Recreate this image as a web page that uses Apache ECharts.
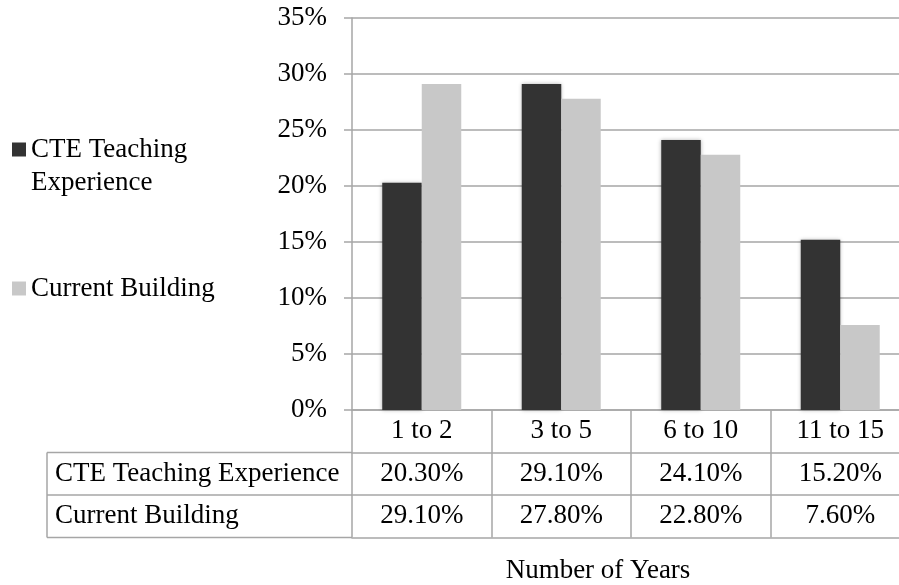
<!DOCTYPE html>
<html>
<head>
<meta charset="utf-8">
<script src="https://cdn.jsdelivr.net/npm/echarts@6/dist/echarts.min.js"></script>
<style>
  html, body { margin: 0; padding: 0; background: #fff; overflow: hidden; }
  /* the original chart runs a little past the right edge of the picture */
  #chart { width: 910px; height: 585px; }
</style>
</head>
<body>
<div id="chart"></div>
<script>
// data
const categories = ['1 to 2', '3 to 5', '6 to 10', '11 to 15'];
const seriesNames = ['CTE Teaching Experience', 'Current Building'];
const cteTeaching = [0.203, 0.291, 0.241, 0.152];
const currentBuilding = [0.291, 0.278, 0.228, 0.076];
const axisTitle = 'Number of Years';

const pct = v => (v * 100).toFixed(2) + '%';
const FONT = 'Liberation Serif';
const FS = 27;
const LINE = '#a6a6a6';

// layout
const gridLeft = 352, gridTop = 18, gridRight = 0, gridH = 392;
const rowH = 42.5;
const tableLeft = 47;
const axisY = gridTop + gridH;

const chart = echarts.init(document.getElementById('chart'));

const rowAxis = (data, offset, showLabel) => ({
  type: 'category',
  data: data,
  position: 'bottom',
  offset: offset,
  axisLine: { show: true, lineStyle: { color: LINE, width: 1.5 } },
  axisTick: { show: false },
  splitLine: { show: false },
  axisLabel: {
    show: showLabel,
    interval: 0,
    margin: rowH / 2,
    verticalAlign: 'middle',
    color: '#000',
    fontFamily: FONT,
    fontSize: FS
  }
});

const tableRows = [
  { name: seriesNames[0], y: axisY + rowH * 1.5 },
  { name: seriesNames[1], y: axisY + rowH * 2.5 }
];

const graphics = [];
[1, 2, 3].forEach(i => {
  graphics.push({
    type: 'line',
    shape: { x1: tableLeft, y1: axisY + rowH * i, x2: gridLeft, y2: axisY + rowH * i },
    style: { stroke: LINE, lineWidth: 1.5 }
  });
});
graphics.push({
  type: 'line',
  shape: { x1: tableLeft, y1: axisY + rowH, x2: tableLeft, y2: axisY + rowH * 3 },
  style: { stroke: LINE, lineWidth: 1.5 }
});
tableRows.forEach(r => {
  graphics.push({
    type: 'text',
    x: tableLeft + 8,
    y: r.y,
    style: {
      text: r.name,
      fill: '#000',
      font: FS + 'px "' + FONT + '"',
      verticalAlign: 'middle'
    }
  });
});

chart.setOption({
  animation: false,
  backgroundColor: '#fff',
  textStyle: { fontFamily: FONT },
  title: {
    text: axisTitle,
    left: 598,
    top: 557,
    textAlign: 'center',
    padding: 0,
    textStyle: { fontFamily: FONT, fontSize: FS, fontWeight: 'normal', color: '#000' }
  },
  legend: [
    {
      data: [seriesNames[0]],
      orient: 'vertical',
      left: 12,
      top: 100,
      padding: 0,
      itemWidth: 14,
      itemHeight: 14,
      icon: 'rect',
      // empty first line keeps the marker beside the first line of text
      formatter: () => '\nCTE Teaching\nExperience',
      textStyle: { fontFamily: FONT, fontSize: FS, color: '#000', lineHeight: 33 }
    },
    {
      data: [seriesNames[1]],
      orient: 'vertical',
      left: 12,
      top: 272,
      padding: 0,
      itemWidth: 14,
      itemHeight: 14,
      icon: 'rect',
      textStyle: { fontFamily: FONT, fontSize: FS, color: '#000', lineHeight: 33 }
    }
  ],
  grid: { left: gridLeft, top: gridTop, right: gridRight, height: gridH, containLabel: false },
  xAxis: [
    {
      type: 'category',
      data: categories,
      position: 'bottom',
      axisLine: { show: true, lineStyle: { color: LINE, width: 1.5 } },
      axisTick: { show: true, interval: 0, length: rowH * 3, lineStyle: { color: LINE, width: 1.5 } },
      axisLabel: {
        interval: 0,
        margin: rowH / 2,
        verticalAlign: 'middle',
        color: '#000',
        fontFamily: FONT,
        fontSize: FS
      }
    },
    rowAxis(cteTeaching.map(pct), rowH, true),
    rowAxis(currentBuilding.map(pct), rowH * 2, true),
    rowAxis(categories.map(() => ''), rowH * 3, false)
  ],
  yAxis: {
    type: 'value',
    min: 0,
    max: 0.35,
    interval: 0.05,
    axisLine: { show: true, lineStyle: { color: LINE, width: 1.5 } },
    axisTick: { show: true, length: 8, lineStyle: { color: LINE, width: 1.5 } },
    splitLine: { show: true, lineStyle: { color: LINE, width: 1.5 } },
    axisLabel: {
      margin: 25,
      color: '#000',
      fontFamily: FONT,
      fontSize: FS,
      formatter: v => Math.round(v * 100) + '%'
    }
  },
  series: [
    {
      name: seriesNames[0],
      type: 'bar',
      data: cteTeaching,
      barWidth: 39.5,
      barGap: '0%',
      itemStyle: { color: '#333333', shadowBlur: 4, shadowColor: 'rgba(0,0,0,0.3)' }
    },
    {
      name: seriesNames[1],
      type: 'bar',
      data: currentBuilding,
      barWidth: 39.5,
      barGap: '0%',
      itemStyle: { color: '#c8c8c8' }
    }
  ],
  graphic: graphics
});
</script>
</body>
</html>
